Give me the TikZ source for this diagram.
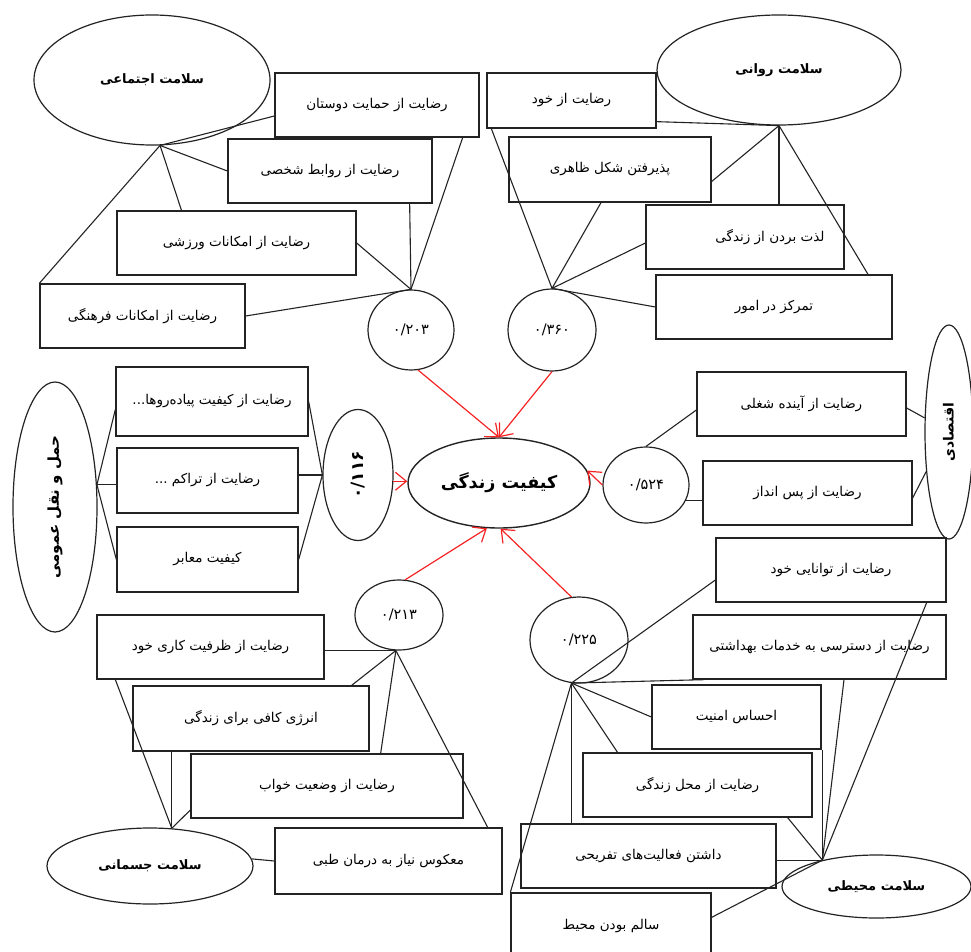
\documentclass[tikz,border=0pt]{standalone}
\usepackage{fontspec}
\usepackage{graphicx}
\usetikzlibrary{shapes.geometric,arrows.meta,calc}
\TeXXeTstate=1
\newfontfamily\fa[Script=Arabic]{DejaVu Sans}
\newcommand\fr[1]{\beginR#1\endR}
\definecolor{arrowred}{RGB}{245,35,35}
\definecolor{ink}{RGB}{35,35,35}
\begin{document}
\begin{tikzpicture}[x=1pt,y=-1pt,
  bx/.style={draw=ink, line width=1.3pt, rectangle, inner sep=2pt, font=\fa\fontsize{13.5}{15}\selectfont},
  ov/.style={draw=ink, ellipse, line width=1.2pt, inner sep=0pt},
  ovt/.style={ov, font=\fa\bfseries\fontsize{13}{15}\selectfont},
  num/.style={ov, font=\fa\fontsize{14.5}{16}\selectfont},
  ln/.style={draw=ink, line width=1.1pt},
  rar/.style={draw=arrowred, line width=1.2pt, -{Straight Barb[length=11pt,width=18pt,line width=1.2pt]}}]
\useasboundingbox (0,0) rectangle (971,952);

% central
\node[ov, line width=1.4pt, minimum width=182pt, minimum height=90pt, font=\fa\bfseries\fontsize{17.5}{20}\selectfont] (q) at (499,483) {\fr{کیفیت زندگی}};

% social
\node[ovt, minimum width=236pt, minimum height=130pt] (soc) at (152,80) {\fr{سلامت اجتماعی}};
\node[bx, minimum width=204pt, minimum height=64pt] (s1) at (377,105) {\fr{رضایت از حمایت دوستان}};
\node[bx, minimum width=204pt, minimum height=64pt] (s2) at (330,171) {\fr{رضایت از روابط شخصی}};
\node[bx, minimum width=239pt, minimum height=64pt] (s3) at (236.5,243) {\fr{رضایت از امکانات ورزشی}};
\node[bx, minimum width=205pt, minimum height=64pt] (s4) at (142.5,316) {\fr{رضایت از امکانات فرهنگی}};
\node[num, minimum width=86pt, minimum height=80pt] (n203) at (411,330) {۰/۲۰۳};
\draw[ln] (soc.-83) -- ([yshift=-11pt]s1.west);
\draw[ln] (soc.-83) -- (s2.west);
\draw[ln] (soc.-83) -- ([xshift=-55pt]s3.north);
\draw[ln] (soc.-83) -- (s4.north west);
\draw[ln] (n203.north) -- ([xshift=-17pt]s1.south east);
\draw[ln] (n203.north) -- ([xshift=-23pt]s2.south east);
\draw[ln] (n203.north) -- (s3.east);
\draw[ln] (n203.north) -- (s4.east);

% psychological
\node[ovt, minimum width=244pt, minimum height=110pt] (psy) at (779,70) {\fr{سلامت روانی}};
\node[bx, minimum width=169pt, minimum height=55pt] (p1) at (571.5,100.5) {\fr{رضایت از خود}};
\node[bx, minimum width=202pt, minimum height=65pt] (p2) at (610,169.5) {\fr{پذیرفتن شکل ظاهری}};
\node[bx, minimum width=198pt, minimum height=64pt] (p3) at (745,237) {\hspace*{50pt}\fr{لذت بردن از زندگی}};
\node[bx, minimum width=236pt, minimum height=64pt] (p4) at (774,307) {\fr{تمرکز در امور}};
\node[num, minimum width=88pt, minimum height=82pt] (n360) at (552,330) {۰/۳۶۰};
\draw[ln] (psy.south) -- ([yshift=7pt]p1.south east);
\draw[ln] (psy.south) -- ([yshift=-12pt]p2.east);
\draw[ln] (psy.south) -- (psy.south |- p3.north);
\draw[ln] (psy.south) -- ([xshift=94pt]p4.north);
\draw[ln] (n360.north) -- ([xshift=5pt]p1.south west);
\draw[ln] (n360.north) -- ([xshift=-9pt]p2.south);
\draw[ln] (n360.north) -- ([yshift=-6pt]p3.west);
\draw[ln] (n360.north) -- (p4.west);

% transport
\node[ov, minimum width=84pt, minimum height=250pt, font=\fa\bfseries\fontsize{15}{17}\selectfont] (tr) at (55,507) {\rotatebox{90}{\fr{حمل و نقل عمومی}}};
\node[bx, minimum width=192pt, minimum height=69pt] (t1) at (212,401.5) {\fr{رضایت از کیفیت پیاده‌روها...}};
\node[bx, minimum width=181pt, minimum height=65pt] (t2) at (207.5,480.5) {\fr{رضایت از تراکم ...}};
\node[bx, minimum width=181pt, minimum height=65pt] (t3) at (207.5,559.5) {\fr{کیفیت معابر}};
\node[ov, minimum width=70pt, minimum height=131pt, font=\fa\bfseries\fontsize{17}{19}\selectfont] (n116) at (358,475) {\rotatebox{90}{۰/۱۱۶}};
\draw[ln] (tr.28) -- ([yshift=-8pt]t1.west);
\draw[ln] (tr.28) -- (tr.28 -| t2.west);
\draw[ln] (tr.28) -- (t3.west);
\draw[ln] (n116.west) -- (t1.east);
\draw[ln] (n116.west) -- (n116.west -| t2.east);
\draw[ln] (n116.west) -- (t3.east);

% economic
\node[ov, minimum width=48pt, minimum height=214pt, font=\fa\bfseries\fontsize{14}{16}\selectfont] (ec) at (949,432) {\rotatebox{90}{\fr{اقتصادی}}};
\node[bx, minimum width=209pt, minimum height=64pt] (e1) at (801.5,404) {\fr{رضایت از آینده شغلی}};
\node[bx, minimum width=209pt, minimum height=64pt] (e2) at (807.5,493) {\fr{رضایت از پس انداز}};
\node[num, minimum width=86pt, minimum height=76pt] (n524) at (646,485) {۰/۵۲۴};
\draw[ln] (n524.north) -- ([yshift=-6pt]e1.west);
\draw[ln] (n524.-21) -- (n524.-21 -| e2.west);
\draw[ln] (ec.150) -- ([yshift=-4pt]e1.east);
\draw[ln] (ec.240) -- ([yshift=-5pt]e2.east);

% environmental
\node[bx, minimum width=230pt, minimum height=64pt] (h1) at (831,570) {\fr{رضایت از توانایی خود}};
\node[bx, minimum width=253pt, minimum height=64pt] (h2) at (819.5,647) {\fr{رضایت از دسترسی به خدمات بهداشتی}};
\node[bx, minimum width=169pt, minimum height=64pt] (h3) at (736.5,717) {\fr{احساس امنیت}};
\node[bx, minimum width=229pt, minimum height=64pt] (h4) at (697.5,785) {\fr{رضایت از محل زندگی}};
\node[bx, minimum width=255pt, minimum height=64pt] (h5) at (648.5,856) {\fr{داشتن فعالیت‌های تفریحی}};
\node[bx, minimum width=200pt, minimum height=67pt] (h6) at (611,926.5) {\fr{سالم بودن محیط}};
\node[num, minimum width=98pt, minimum height=86pt] (n225) at (579,640) {۰/۲۲۵};
\node[ovt, minimum width=189pt, minimum height=63pt] (env) at (876.5,886.5) {\fr{سلامت محیطی}};
\coordinate (hb) at (n225.-100);
\coordinate (eh) at (env.154);
\draw[ln] (hb) -- ([yshift=-10pt]h1.west);
\draw[ln] (hb) -- ([xshift=12pt]h2.south west);
\draw[ln] (hb) -- (h3.west);
\draw[ln] (hb) -- ([xshift=-80pt]h4.north);
\draw[ln] (hb) -- (hb |- h5.north);
\draw[ln] (hb) -- (h6.north west);
\draw[ln] (eh) -- ([xshift=-20pt]h1.south east);
\draw[ln] (eh) -- ([xshift=24.5pt]h2.south);
\draw[ln] (eh) -- (eh |- h3.south);
\draw[ln] (eh) -- ([xshift=-25pt]h4.south east);
\draw[ln] (eh) -- (eh -| h5.east);
\draw[ln] (eh) -- ([yshift=-25pt]h6.north east);

% physical
\node[num, minimum width=88pt, minimum height=70pt] (n213) at (399,615) {۰/۲۱۳};
\node[bx, minimum width=227pt, minimum height=64pt] (b1) at (210.5,647) {\fr{رضایت از ظرفیت کاری خود}};
\node[bx, minimum width=236pt, minimum height=65pt] (b2) at (251,718.5) {\fr{انرژی کافی برای زندگی}};
\node[bx, minimum width=272pt, minimum height=64pt] (b3) at (327,786) {\fr{رضایت از وضعیت خواب}};
\node[bx, minimum width=227pt, minimum height=66pt] (b4) at (388.5,861) {\fr{معکوس نیاز به درمان طبی}};
\node[ovt, minimum width=206pt, minimum height=76pt] (phy) at (150,866) {\fr{سلامت جسمانی}};
\coordinate (nb) at (n213.-95);
\coordinate (pb) at (phy.60);
\draw[ln] (nb) -- (nb -| b1.east);
\draw[ln] (nb) -- ([xshift=-18pt]b2.north east);
\draw[ln] (nb) -- ([xshift=-83pt]b3.north east);
\draw[ln] (nb) -- ([xshift=-15pt]b4.north east);
\draw[ln] (pb) -- ([xshift=19pt]b1.south west);
\draw[ln] (pb) -- (pb |- b2.south);
\draw[ln] (pb) -- ([yshift=-24pt]b3.west);
\draw[ln] (phy.4) -- (b4.west);

% red arrows
\draw[rar] (n116.-10) -- (n116.-10 -| q.west);
\draw[rar] (n203.-80) -- (q.north);
\draw[rar] (n360.south) -- (q.north);
\draw[rar] (n524.west) -- (q.8);
\draw[rar] (n213.80) -- (q.-105);
\draw[rar] (n225.100) -- (q.-88);
\end{tikzpicture}
\end{document}
